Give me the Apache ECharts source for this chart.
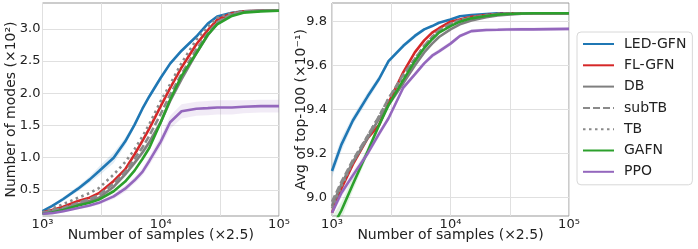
<!DOCTYPE html>
<html>
<head>
<meta charset="utf-8">
<script src="https://cdn.jsdelivr.net/npm/echarts@6/dist/echarts.min.js"></script>
<style>
html,body{margin:0;padding:0;background:#fff;}
#c{width:698px;height:249px;}
</style>
</head>
<body>
<div id="c"></div>
<script>
// ---- data ----
const samples = [1000,1200,1500,2000,2500,3000,4000,5000,6000,7000,8000,10000,12000,15000,20000,25000,30000,40000,50000,70000,100000];
const methods = ['LED-GFN','FL-GFN','DB','subTB','TB','GAFN','PPO'];

// left: number of modes (x10^2)
const ledModes   = [0.17,0.25,0.36,0.52,0.66,0.79,1.00,1.25,1.51,1.76,1.95,2.24,2.46,2.66,2.88,3.08,3.19,3.25,3.27,3.28,3.28];
const flModes    = [0.15,0.19,0.24,0.33,0.38,0.45,0.64,0.82,1.05,1.26,1.45,1.80,2.08,2.40,2.76,2.98,3.14,3.24,3.27,3.28,3.28];
const dbModes    = [0.14,0.17,0.21,0.28,0.33,0.38,0.55,0.74,0.92,1.08,1.24,1.55,1.88,2.22,2.62,2.90,3.08,3.22,3.26,3.28,3.28];
const subtbModes = [0.14,0.18,0.22,0.30,0.36,0.42,0.60,0.78,0.98,1.16,1.34,1.68,1.98,2.30,2.68,2.93,3.10,3.23,3.27,3.28,3.28];
const tbModes    = [0.15,0.21,0.28,0.38,0.45,0.53,0.74,0.93,1.13,1.33,1.52,1.88,2.14,2.47,2.83,3.03,3.17,3.25,3.27,3.28,3.28];
const gafnModes  = [0.13,0.15,0.19,0.26,0.30,0.35,0.48,0.63,0.80,0.98,1.15,1.55,1.90,2.27,2.62,2.91,3.07,3.20,3.25,3.27,3.28];
const ppoModes   = [0.13,0.14,0.17,0.22,0.26,0.30,0.40,0.52,0.65,0.78,0.95,1.25,1.55,1.72,1.76,1.77,1.78,1.78,1.79,1.80,1.80];
// band half-widths (left)
const ledModesBand = [0.01,0.02,0.03,0.04,0.05,0.07,0.08,0.06,0.04,0.03,0.03,0.03,0.03,0.02,0.02,0.01,0.01,0.01,0.01,0.01,0.01];
const dbModesBand  = [0.01,0.01,0.01,0.02,0.02,0.03,0.03,0.04,0.04,0.05,0.05,0.05,0.05,0.05,0.04,0.03,0.02,0.01,0.01,0.01,0.01];
const ppoModesBand = [0.01,0.01,0.02,0.02,0.03,0.03,0.04,0.05,0.05,0.06,0.07,0.08,0.10,0.11,0.11,0.11,0.11,0.11,0.10,0.10,0.10];

// right: avg of top-100 (x10^-1)
const ledTop   = [9.12,9.24,9.35,9.46,9.54,9.62,9.69,9.735,9.765,9.78,9.795,9.81,9.825,9.83,9.835,9.838,9.838,9.838,9.838,9.838,9.838];
const flTop    = [8.93,9.04,9.15,9.27,9.33,9.43,9.57,9.66,9.715,9.75,9.77,9.80,9.81,9.822,9.83,9.835,9.837,9.838,9.838,9.838,9.838];
const dbTop    = [8.96,9.06,9.16,9.27,9.36,9.42,9.52,9.60,9.66,9.70,9.73,9.765,9.788,9.805,9.82,9.828,9.832,9.836,9.838,9.838,9.838];
const subtbTop = [8.98,9.07,9.17,9.28,9.37,9.45,9.56,9.63,9.69,9.73,9.76,9.79,9.805,9.818,9.828,9.834,9.837,9.838,9.838,9.838,9.838];
const tbTop    = [8.95,9.05,9.16,9.28,9.37,9.45,9.55,9.63,9.69,9.73,9.76,9.79,9.808,9.82,9.83,9.836,9.838,9.838,9.838,9.838,9.838];
const gafnTop  = [8.86,8.94,9.06,9.21,9.33,9.42,9.535,9.62,9.68,9.72,9.75,9.78,9.80,9.815,9.826,9.832,9.835,9.837,9.838,9.838,9.838];
const ppoTop   = [8.93,9.02,9.10,9.20,9.29,9.36,9.50,9.56,9.61,9.645,9.665,9.70,9.735,9.757,9.762,9.763,9.764,9.765,9.765,9.766,9.767];
// band half-widths (right)
const ledTopBand  = [0.03,0.03,0.02,0.02,0.015,0.01,0.01,0.01,0.005,0.005,0.005,0.004,0.003,0.003,0.002,0.002,0.002,0.002,0.002,0.002,0.002];
const gafnTopBand = [0.05,0.04,0.03,0.02,0.015,0.01,0.01,0.01,0.008,0.006,0.005,0.004,0.003,0.003,0.002,0.002,0.002,0.002,0.002,0.002,0.002];
const ppoTopBand  = [0.02,0.02,0.02,0.015,0.015,0.012,0.012,0.01,0.01,0.01,0.01,0.01,0.008,0.008,0.008,0.008,0.008,0.008,0.008,0.008,0.008];

const xTickLabels = {3:'10³', 4:'10⁴', 5:'10⁵'};
const leftYTicks = [0.5,1.0,1.5,2.0,2.5,3.0];
const rightYTicks = [9.0,9.2,9.4,9.6,9.8];

// ---- styles ----
const FONT = 'DejaVu Sans';
const colors = {'LED-GFN':'#1f77b4','FL-GFN':'#d62728','DB':'#7f7f7f','subTB':'#8a8a8a','TB':'#8a8a8a','GAFN':'#2ca02c','PPO':'#9467bd'};
const dashes = {'subTB':[7,3],'TB':[2.5,3.5]};

const leftData = {'LED-GFN':ledModes,'FL-GFN':flModes,'DB':dbModes,'subTB':subtbModes,'TB':tbModes,'GAFN':gafnModes,'PPO':ppoModes};
const rightData = {'LED-GFN':ledTop,'FL-GFN':flTop,'DB':dbTop,'subTB':subtbTop,'TB':tbTop,'GAFN':gafnTop,'PPO':ppoTop};

const lx = samples.map(s => Math.log10(s));
function pairs(vals){ return vals.map((v,i)=>[lx[i], v]); }

function band(name, vals, widths, axisIdx){
  const data = vals.map((v,i)=>[lx[i], v - widths[i], v + widths[i]]);
  return {
    type:'custom', name: name + ' band', xAxisIndex: axisIdx, yAxisIndex: axisIdx,
    silent:true, z:1, clip:true,
    data: data,
    renderItem: function(params, api){
      if (params.dataIndex !== 0) return;
      const up = data.map(d => api.coord([d[0], d[2]]));
      const lo = data.map(d => api.coord([d[0], d[1]])).reverse();
      return {type:'polygon', shape:{points: up.concat(lo)}, style:{fill: colors[name], opacity:0.13}};
    }
  };
}

const series = [];
series.push(band('LED-GFN', ledModes, ledModesBand, 0));
series.push(band('DB', dbModes, dbModesBand, 0));
series.push(band('PPO', ppoModes, ppoModesBand, 0));
series.push(band('LED-GFN', ledTop, ledTopBand, 1));
series.push(band('GAFN', gafnTop, gafnTopBand, 1));
series.push(band('PPO', ppoTop, ppoTopBand, 1));

[0,1].forEach(ai => {
  const src = ai === 0 ? leftData : rightData;
  methods.forEach((m, k) => {
    series.push({
      type:'line', name:m, xAxisIndex:ai, yAxisIndex:ai,
      data: pairs(src[m]), symbol:'none', showSymbol:false, z: 2 + k,
      lineStyle:{color:colors[m], width:2.6, type: dashes[m] || 'solid', cap:'butt'},
      itemStyle:{color:colors[m]},
      animation:false
    });
  });
});

function xAxis(i){
  return {
    gridIndex:i, type:'value', min:3, max:5, interval:0.5,
    axisLine:{show:false}, axisTick:{show:false},
    splitLine:{show:true, lineStyle:{color:'#e0e0e0', width:1}},
    axisLabel:{show:true, margin:2, color:'#222', fontFamily:FONT, fontSize:13,
      formatter: v => xTickLabels[Math.round(v*2)/2] || ''},
    name:'Number of samples (×2.5)', nameLocation:'middle', nameGap:12, nameMoveOverlap:false,
    nameTextStyle:{color:'#222', fontFamily:FONT, fontSize:14}
  };
}
function yAxis(i, min, max, ticks, name, margin){
  return {
    gridIndex:i, type:'value', min:min, max:max,
    axisLine:{show:false},
    axisTick:{show:false, customValues:ticks},
    splitLine:{show:true, lineStyle:{color:'#e0e0e0', width:1}},
    axisLabel:{show:true, customValues:ticks, margin:margin, color:'#222', fontFamily:FONT, fontSize:13,
      formatter: v => v.toFixed(1)},
    name:name, nameLocation:'middle', nameGap:24, nameMoveOverlap:false,
    nameTextStyle:{color:'#222', fontFamily:FONT, fontSize:14}
  };
}

const chart = echarts.init(document.getElementById('c'), null, {renderer:'canvas'});
chart.setOption({
  animation:false,
  backgroundColor:'#fff',
  textStyle:{fontFamily:FONT},
  grid:[
    {left:42.5, top:3, width:236.5, height:213, show:true, borderColor:'#999', borderWidth:1, backgroundColor:'transparent', outerBoundsMode:'none', containLabel:false},
    {left:332, top:3, width:237, height:213, show:true, borderColor:'#999', borderWidth:1, backgroundColor:'transparent', outerBoundsMode:'none', containLabel:false}
  ],
  xAxis:[xAxis(0), xAxis(1)],
  yAxis:[
    yAxis(0, 0.096, 3.40, leftYTicks, 'Number of modes (×10²)', 2),
    yAxis(1, 8.915, 9.885, rightYTicks, 'Avg of top-100 (×10⁻¹)', 5)
  ],
  legend:{
    data: methods, orient:'vertical', left:577, top:32,
    itemWidth:31, itemHeight:14, itemGap:7.3,
    padding:[5,6,6,5],
    itemStyle:{opacity:0},
    backgroundColor:'#fff', borderColor:'#d8d8d8', borderWidth:1, borderRadius:4,
    textStyle:{color:'#222', fontFamily:FONT, fontSize:14, padding:[0,0,0,5]},
    selectedMode:false
  },
  series: series
});
</script>
</body>
</html>
